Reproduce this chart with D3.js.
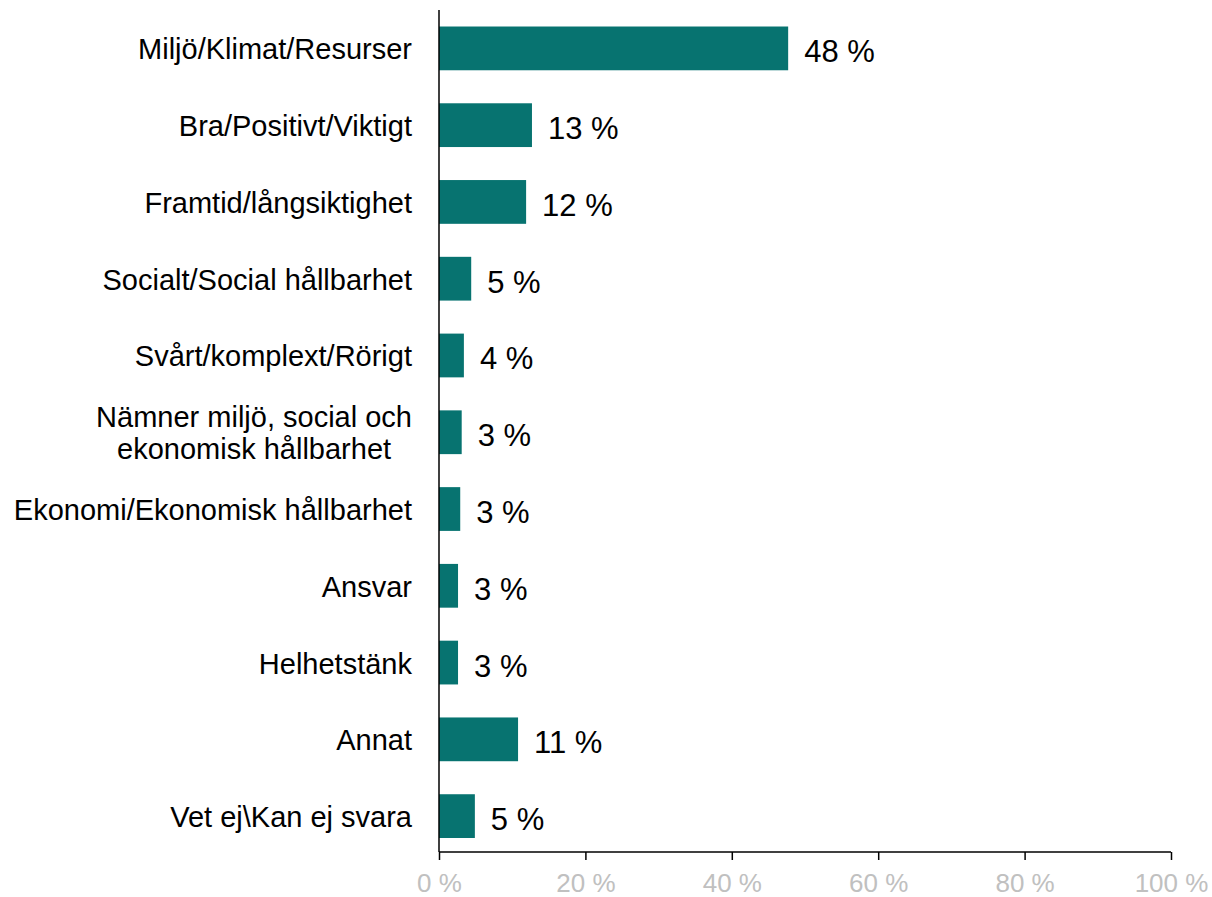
<!DOCTYPE html>
<html>
<head>
<meta charset="utf-8">
<script src="https://cdn.jsdelivr.net/npm/d3@7"></script>
<style>
  body { margin: 0; background: #fff; }
  svg text { font-family: "Liberation Sans", Arial, sans-serif; }
</style>
</head>
<body>
<svg id="chart" width="1212" height="897"></svg>
<script>
// data
var categories = [
  ["Miljö/Klimat/Resurser"],
  ["Bra/Positivt/Viktigt"],
  ["Framtid/långsiktighet"],
  ["Socialt/Social hållbarhet"],
  ["Svårt/komplext/Rörigt"],
  ["Nämner miljö, social och", "ekonomisk hållbarhet"],
  ["Ekonomi/Ekonomisk hållbarhet"],
  ["Ansvar"],
  ["Helhetstänk"],
  ["Annat"],
  ["Vet ej\\Kan ej svara"]
];
var values = [47.7, 12.7, 11.9, 4.4, 3.4, 3.1, 2.9, 2.6, 2.6, 10.8, 4.9];
var valueLabels = ["48 %", "13 %", "12 %", "5 %", "4 %", "3 %", "3 %", "3 %", "3 %", "11 %", "5 %"];
var xTicks = [0, 20, 40, 60, 80, 100];

var svg = d3.select('#chart');
var plotLeft = 439, plotRight = 1171, plotTop = 10, plotBottom = 852;

var x = d3.scaleLinear().domain([0, 100]).range([plotLeft, plotRight]);
var y = d3.scaleBand().domain(d3.range(categories.length)).range([plotTop, plotBottom + 2.5])
  .paddingInner(0.43).paddingOuter(0.215);

// bars
svg.append('g').selectAll('rect').data(values).join('rect')
  .attr('x', x(0))
  .attr('y', function(d, i) { return y(i); })
  .attr('width', function(d) { return x(d) - x(0); })
  .attr('height', y.bandwidth())
  .attr('fill', '#077370');

// value labels
svg.append('g').selectAll('text').data(values).join('text')
  .attr('x', function(d) { return x(d) + 16; })
  .attr('y', function(d, i) { return y(i) + y.bandwidth() / 2 + 14; })
  .attr('font-size', 31)
  .attr('fill', '#000')
  .text(function(d, i) { return valueLabels[i]; });

// category labels (multi-line ones centred on their own block)
var labelRight = 412;
var catG = svg.append('g');
categories.forEach(function(lines, i) {
  var cy = y(i) + y.bandwidth() / 2;
  var lh = 32;
  var t = catG.append('text')
    .attr('font-size', 29)
    .attr('fill', '#000');
  lines.forEach(function(line, j) {
    t.append('tspan')
      .attr('y', cy + 11 + (j - (lines.length - 1) / 2) * lh)
      .text(line);
  });
  if (lines.length == 1) {
    t.attr('text-anchor', 'end').selectAll('tspan').attr('x', labelRight);
  } else {
    var w = 0;
    t.selectAll('tspan').each(function() { w = Math.max(w, this.getComputedTextLength()); });
    t.attr('text-anchor', 'middle').selectAll('tspan').attr('x', labelRight - w / 2);
  }
});

// x axis
var xAxis = svg.append('g').attr('transform', 'translate(0,' + plotBottom + ')')
  .call(d3.axisBottom(x).tickValues(xTicks).tickSize(8).tickPadding(14)
    .tickFormat(function(d) { return d + ' %'; }));
xAxis.select('.domain').attr('stroke', '#000').attr('stroke-width', 1.5).attr('d', 'M' + plotLeft + ',0H' + plotRight);
xAxis.selectAll('.tick line').attr('stroke', '#000').attr('stroke-width', 1.5);
xAxis.selectAll('.tick text').attr('font-size', 26).attr('fill', '#c0c0c0')
  .style('font-family', '"Liberation Sans", Arial, sans-serif');

// y axis line
svg.append('line')
  .attr('x1', plotLeft).attr('x2', plotLeft)
  .attr('y1', plotTop).attr('y2', plotBottom)
  .attr('stroke', '#000').attr('stroke-width', 1.5);
</script>
</body>
</html>
